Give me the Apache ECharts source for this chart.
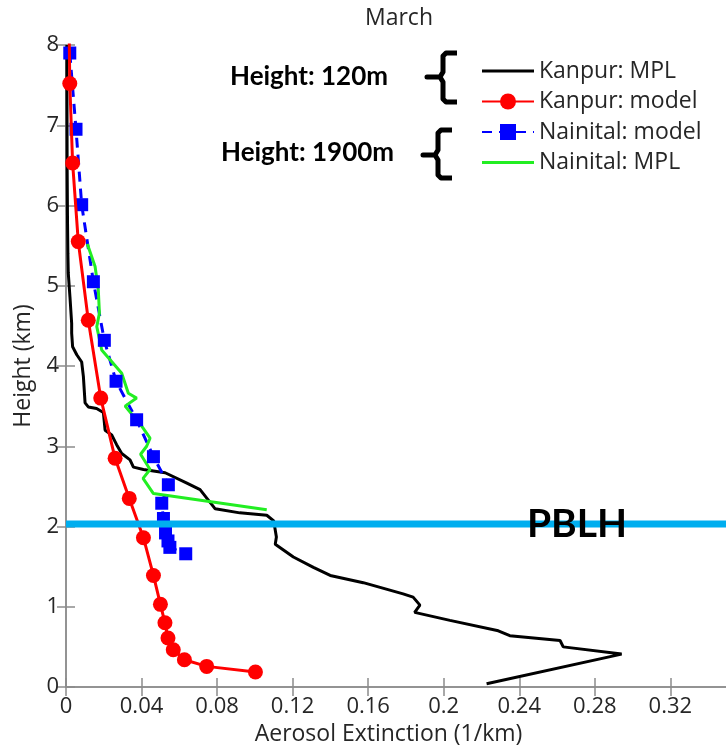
<!DOCTYPE html>
<html>
<head>
<meta charset="utf-8">
<script src="https://cdn.jsdelivr.net/npm/echarts@6/dist/echarts.min.js"></script>
<style>
  html, body { margin: 0; padding: 0; background: #fff; }
  #chart { width: 726px; height: 748px; }
</style>
</head>
<body>
<div id="chart"></div>
<script>
// Aerosol extinction profiles (x: extinction in 1/km, y: height in km)
const kanpurMPL = [
  [0.0005, 8.0], [0.0005, 7.5], [0.0006, 6.5], [0.0008, 5.8], [0.001, 5.4],
  [0.0012, 5.16], [0.0021, 4.86], [0.003, 4.53], [0.003, 4.41], [0.0035, 4.24],
  [0.0057, 4.14], [0.0083, 4.05], [0.0092, 3.87], [0.0101, 3.54], [0.0118, 3.49],
  [0.0162, 3.47], [0.0198, 3.42], [0.0207, 3.20], [0.0242, 3.14], [0.0268, 3.02],
  [0.0295, 2.91], [0.0339, 2.83], [0.0357, 2.74], [0.041, 2.71], [0.0525, 2.67],
  [0.064, 2.54], [0.071, 2.46], [0.079, 2.22], [0.092, 2.17], [0.1063, 2.14],
  [0.110, 2.07], [0.1114, 1.87], [0.1108, 1.78], [0.1204, 1.62], [0.131, 1.49],
  [0.1399, 1.39], [0.1574, 1.30], [0.1785, 1.16], [0.1838, 1.12], [0.1874, 1.02],
  [0.1846, 0.93], [0.2033, 0.83], [0.2289, 0.70], [0.235, 0.64], [0.2616, 0.58],
  [0.2633, 0.50], [0.2942, 0.41], [0.2227, 0.04]
];

const kanpurModel = [
  [0.0015, 8.5], [0.002, 7.52], [0.0035, 6.53], [0.0065, 5.55], [0.0118, 4.57],
  [0.0184, 3.60], [0.026, 2.85], [0.0335, 2.35], [0.041, 1.86], [0.0463, 1.39],
  [0.050, 1.03], [0.0524, 0.80], [0.054, 0.61], [0.0568, 0.465], [0.0627, 0.34],
  [0.0745, 0.257], [0.1003, 0.187]
];

const nainitalModel = [
  [0.002, 7.9], [0.0053, 6.95], [0.0083, 6.01], [0.0145, 5.05], [0.0203, 4.32],
  [0.0265, 3.81], [0.0374, 3.33], [0.0463, 2.87], [0.0542, 2.52], [0.0507, 2.29],
  [0.0516, 2.10], [0.0527, 1.92], [0.054, 1.82], [0.055, 1.74], [0.0634, 1.66]
];

const nainitalMPL = [
  [0.0113, 5.52], [0.0154, 5.24], [0.0171, 4.95], [0.0177, 4.66], [0.0163, 4.49],
  [0.0189, 4.20], [0.0295, 3.91], [0.033, 3.66], [0.0374, 3.60], [0.0313, 3.50],
  [0.0401, 3.25], [0.0445, 3.10], [0.0427, 3.00], [0.0395, 2.90], [0.0445, 2.71],
  [0.0408, 2.60], [0.0463, 2.41], [0.1063, 2.21]
];

// Planetary boundary layer height (km)
const pblh = 2.03;

// Axis ranges and tick labels
const xMin = 0, xMax = 0.35, xStep = 0.04;
const xTickLabels = ['0', '0.04', '0.08', '0.12', '0.16', '0.2', '0.24', '0.28', '0.32'];
const yMin = 0, yMax = 8, yStep = 1;
const yTickLabels = ['0', '1', '2', '3', '4', '5', '6', '7', '8'];

const seriesNames = ['Kanpur: MPL', 'Kanpur: model', 'Nainital: model', 'Nainital: MPL'];

const FONT = '"Open Sans", "Noto Sans", sans-serif';
const TEXT = '#262626';
const AXIS = '#8c8c8c';
// plain line swatch for the lidar (MPL) entries
const LINE_ICON = 'path://M0,0 L52,0 L52,3 L0,3 Z';

const chart = echarts.init(document.getElementById('chart'), null, { renderer: 'canvas' });

function xLabel(v) {
  const i = Math.round((v - xMin) / xStep);
  return Math.abs(v - (xMin + i * xStep)) < 1e-9 && xTickLabels[i] !== undefined ? xTickLabels[i] : '';
}
function yLabel(v) {
  const i = Math.round((v - yMin) / yStep);
  return yTickLabels[i] !== undefined ? yTickLabels[i] : '';
}

const axisCommon = {
  type: 'value',
  axisLine: { show: true, lineStyle: { color: AXIS, width: 1.5 } },
  axisTick: { show: true, inside: true, length: 9, lineStyle: { color: AXIS, width: 1.5 } },
  splitLine: { show: false }
};

// Braces grouping the legend entries by station height
function brace(x, yTop, yMid, yBot, nubX) {
  const stemX = x, armX = x + 14;
  return {
    type: 'polyline',
    shape: {
      points: [
        [armX, yTop], [stemX + 3, yTop], [stemX, yTop + 3], [stemX, yMid - 5],
        [stemX - 3, yMid], [nubX, yMid], [stemX - 3, yMid], [stemX, yMid + 5],
        [stemX, yBot - 3], [stemX + 3, yBot], [armX, yBot]
      ]
    },
    style: { stroke: '#000', lineWidth: 5, fill: null, lineJoin: 'round', lineCap: 'butt' },
    z: 100
  };
}

chart.setOption({
  animation: false,
  backgroundColor: '#fff',
  title: {
    text: 'March',
    left: 394, top: 2, textAlign: 'center',
    textStyle: { fontFamily: FONT, fontSize: 23, fontWeight: 'normal', color: TEXT }
  },
  grid: { left: 66, right: -1, top: 45, bottom: 61, containLabel: false, outerBoundsMode: 'none' },
  legend: {
    data: [
      { name: seriesNames[0], icon: LINE_ICON, itemStyle: { color: '#000' } },
      { name: seriesNames[1] },
      { name: seriesNames[2] },
      { name: seriesNames[3], icon: LINE_ICON, itemStyle: { color: '#22ee22' } }
    ],
    orient: 'vertical',
    left: 476, top: 54,
    itemWidth: 52, itemHeight: 20, itemGap: 6.5,
    textStyle: { fontFamily: FONT, fontSize: 23, color: TEXT, lineHeight: 24 },
    selectedMode: false
  },
  xAxis: [
    Object.assign({}, axisCommon, {
      position: 'bottom', min: xMin, max: xMax, interval: xStep,
      name: 'Aerosol Extinction (1/km)', nameLocation: 'middle', nameGap: 34,
      nameTextStyle: { fontFamily: FONT, fontSize: 23, color: TEXT, padding: [0, 16, 0, 0] },
      axisLabel: { formatter: xLabel, showMaxLabel: false, fontFamily: FONT, fontSize: 22, color: TEXT, margin: 9 }
    }),
    Object.assign({}, axisCommon, {
      position: 'top', min: xMin, max: xMax, interval: xStep,
      axisLabel: { show: false }
    })
  ],
  yAxis: [
    Object.assign({}, axisCommon, {
      position: 'left', min: yMin, max: yMax, interval: yStep,
      name: 'Height (km)', nameLocation: 'middle', nameGap: 31, nameRotate: 90,
      nameTextStyle: { fontFamily: FONT, fontSize: 23, color: TEXT },
      axisLabel: { formatter: yLabel, fontFamily: FONT, fontSize: 22, color: TEXT, margin: 7 }
    }),
    Object.assign({}, axisCommon, {
      position: 'right', min: yMin, max: yMax, interval: yStep,
      axisLabel: { show: false }
    })
  ],
  series: [
    {
      name: 'PBLH', type: 'line', silent: true,
      data: [[xMin, pblh], [xMax, pblh]],
      symbol: 'none',
      lineStyle: { color: '#00aeef', width: 7 },
      z: 5
    },
    {
      name: 'Kanpur: MPL', type: 'line', data: kanpurMPL,
      symbol: 'none',
      lineStyle: { color: '#000', width: 3 },
      itemStyle: { color: '#000' },
      z: 2
    },
    {
      name: 'Kanpur: model', type: 'line', data: kanpurModel,
      symbol: 'circle', symbolSize: 15, showAllSymbol: true,
      lineStyle: { color: '#ff0000', width: 3 },
      itemStyle: { color: '#ff0000' },
      z: 4
    },
    {
      name: 'Nainital: model', type: 'line', data: nainitalModel,
      symbol: 'rect', symbolSize: 13, showAllSymbol: true,
      lineStyle: { color: '#0000ff', width: 3, type: [10, 7] },
      itemStyle: { color: '#0000ff' },
      z: 3
    },
    {
      name: 'Nainital: MPL', type: 'line', data: nainitalMPL,
      symbol: 'none',
      lineStyle: { color: '#22ee22', width: 3 },
      itemStyle: { color: '#22ee22' },
      z: 3
    }
  ],
  graphic: [
    {
      type: 'text', left: 230, top: 64, z: 100,
      style: { text: 'Height: 120m', font: 'bold 26px Lato, "Open Sans", sans-serif', fill: '#000' }
    },
    {
      type: 'text', left: 221, top: 140, z: 100,
      style: { text: 'Height: 1900m', font: 'bold 26px Lato, "Open Sans", sans-serif', fill: '#000' }
    },
    brace(443, 53, 77, 102, 427),
    brace(438, 130, 155, 178, 423),
    {
      type: 'text', z: 100,
      x: 577, y: 524,
      style: {
        text: 'PBLH', font: 'bold 39px Lato, "Open Sans", sans-serif', fill: '#000',
        align: 'center', verticalAlign: 'middle'
      }
    }
  ]
});
</script>
</body>
</html>
